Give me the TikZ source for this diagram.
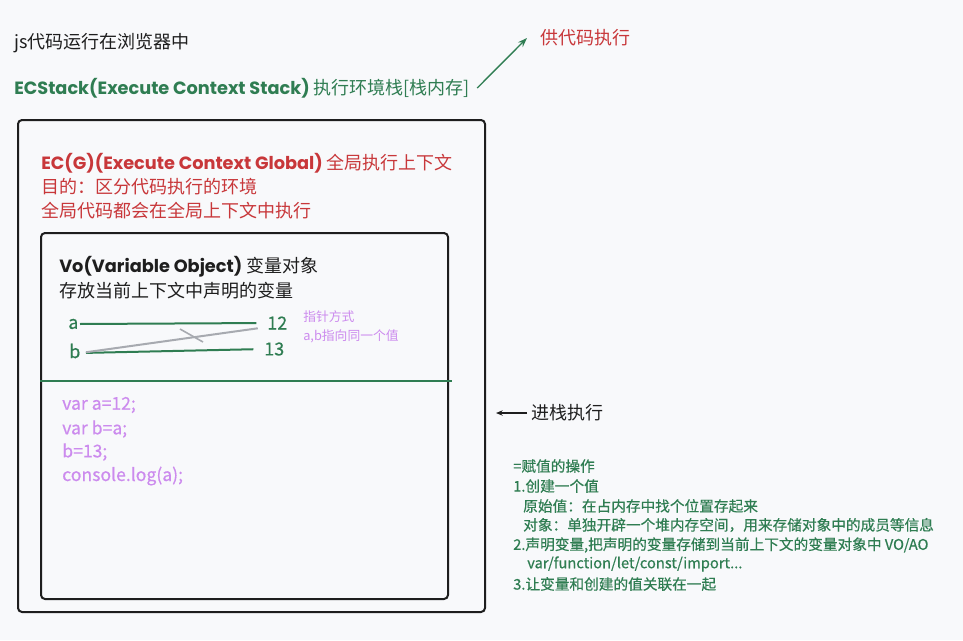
\documentclass[tikz,border=0pt]{standalone}
\usepackage{fontspec}
\setmainfont{Noto Sans CJK SC}
\newfontfamily\hand{Poppins}
\newfontfamily\medfont{Noto Sans CJK SC}[FakeBold=0.5]
\usetikzlibrary{arrows.meta,calc}
\definecolor{ecgreen}{HTML}{2F7D52}
\definecolor{ecred}{HTML}{C8373A}
\definecolor{ecpurple}{HTML}{CC8BEE}
\definecolor{ecgray}{HTML}{A7AAB0}
\definecolor{ink}{HTML}{1E1E1E}
\definecolor{paper}{HTML}{F8F9FB}
\newcommand\szL{\fontsize{13.5}{16}\selectfont}
\newcommand\szC{\fontsize{13.2}{15}\selectfont}
\newcommand\szS{\fontsize{11}{13}\selectfont}
\newcommand\szT{\fontsize{9.6}{12}\selectfont}
\newcommand\handb[1]{{\hand\bfseries\fontsize{13.3}{15}\selectfont #1}}

\begin{document}
\begin{tikzpicture}[x=0.75pt,y=-0.75pt,
  lbl/.style={anchor=west,inner sep=0pt,font=\szL},
  note/.style={anchor=west,inner sep=0pt,font=\medfont\szS,text=ecgreen},
  codeline/.style={anchor=west,inner sep=0pt,font=\medfont\szC,text=ecpurple},
  box/.style={draw=ink,line width=1.5pt,rounded corners=3pt},
  gline/.style={draw=ecgreen,line width=1.5pt},
  grayline/.style={draw=ecgray,line width=1.5pt}]
\fill[paper] (0,0) rectangle (963,640);
\useasboundingbox (0,0) rectangle (963,640);

% header
\node[lbl,text=ink] (js) at (14,43) {js代码运行在浏览器中};
\node[lbl,text=ecgreen] (ecs) at (14,88) {\handb{ECStack(Execute Context Stack)} 执行环境栈[栈内存]};
\node[lbl,text=ecred] (gong) at (540,38) {供代码执行};
\draw[ecgreen,line width=1pt,-{Stealth[length=7pt,width=5pt]}]
  ($(ecs.east)+(7,0)$) -- ($(gong.west)+(-13,0)$);

% global context
\draw[box] (18,120) rectangle (485,612);
\node[lbl,text=ecred] (ecg) at (41,163) {\handb{EC(G)(Execute Context Global)} 全局执行上下文};
\node[lbl,text=ecred] (aim) at (41,187) {目的：区分代码执行的环境};
\node[lbl,text=ecred] (glob) at (41,211) {全局代码都会在全局上下文中执行};

% variable object
\draw[box] (41,233) rectangle (448,599);
\node[lbl,text=ink] (vo) at (59,267) {\handb{Vo(Variable Object)} 变量对象};
\node[lbl,text=ink] (store) at (59,291) {存放当前上下文中声明的变量};

\node[lbl,font=\medfont\szL,text=ecgreen] (a) at (68,324) {a};
\node[lbl,font=\medfont\szL,text=ecgreen] (b) at (69,351) {b};
\node[lbl,font=\medfont\szL,text=ecgreen] (v12) at (267,323) {12};
\node[lbl,font=\medfont\szL,text=ecgreen] (v13) at (264,349) {13};
\node[anchor=west,inner sep=0pt,font=\szT,text=ecpurple] (ptr) at (303,317) {指针方式};
\node[anchor=west,inner sep=0pt,font=\szT,text=ecpurple] (same) at (303,336) {a,b指向同一个值};

\draw[gline,shorten <=1pt,shorten >=8pt] (a.east) -- (v12.west);
\draw[gline,shorten <=4pt,shorten >=8pt] ($(b.east)+(0,2)$) -- (v13.west);
\draw[grayline,shorten <=4pt,shorten >=7pt] ($(b.east)+(0,2)$) -- ($(v12.west)+(0,4)$);
\draw[grayline,line width=1.2pt] (180,329) -- (203,342);

\draw[gline] (40,381) -- (452,381);

\node[codeline] (c1) at (62,405) {var a=12;};
\node[codeline] (c2) at (62,429) {var b=a;};
\node[codeline] (c3) at (62,452) {b=13;};
\node[codeline] (c4) at (62,476) {console.log(a);};

% push onto stack
\node[lbl,text=ink] (push) at (531,413) {进栈执行};
\coordinate (pushend) at (496,413);
\draw[ink,line width=0.9pt,-{Stealth[length=5pt,width=4pt]}] ($(push.west)+(-4,0)$) -- (pushend);

% assignment notes
\node[note] (n0) at (513,466) {=赋值的操作};
\node[note] (n1) at (513,486) {1.创建一个值};
\node[note] (n2) at (523,506) {原始值：在占内存中找个位置存起来};
\node[note] (n3) at (523,525) {对象：单独开辟一个堆内存空间，用来存储对象中的成员等信息};
\node[note] (n4) at (513,545) {2.声明变量,把声明的变量存储到当前上下文的变量对象中 VO/AO};
\node[note] (n5) at (527,564) {var/function/let/const/import...};
\node[note] (n6) at (513,584) {3.让变量和创建的值关联在一起};
\end{tikzpicture}
\end{document}
